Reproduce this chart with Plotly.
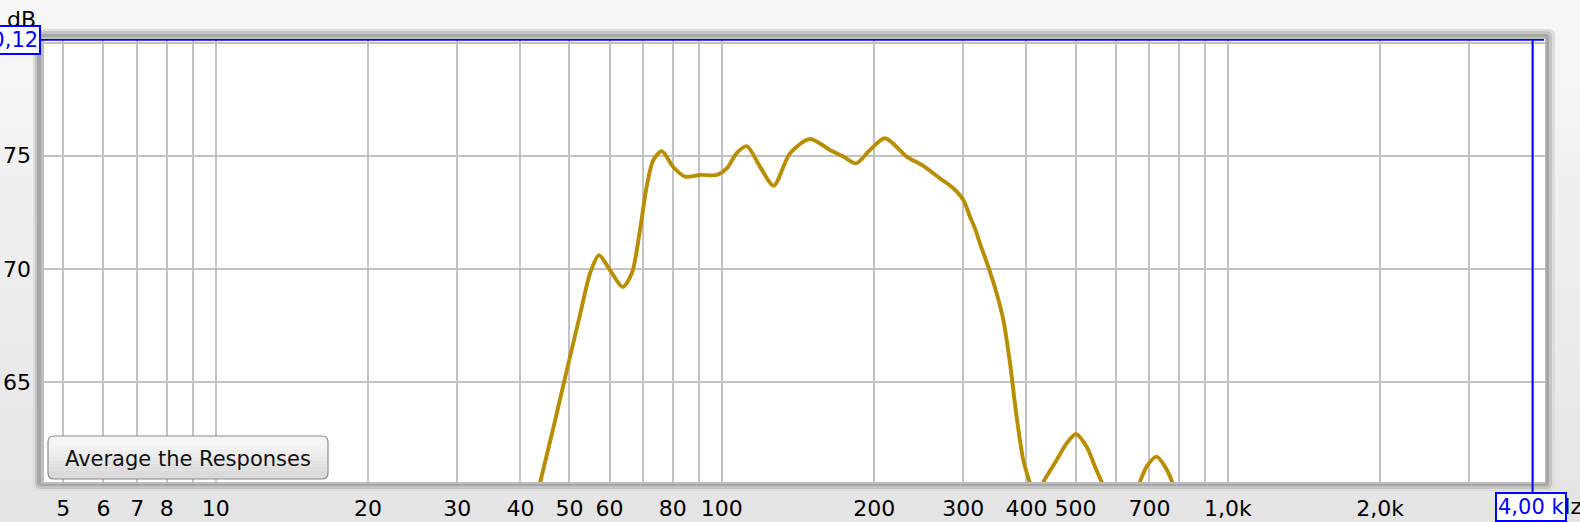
import math
import plotly.graph_objects as go

# ---------------- data ----------------
freq_hz = [42, 43.7, 46.5, 49.5, 52.5, 55.0, 57.2, 60.1, 63.7, 66.4, 68.9, 71.0, 73.2,
           76.1, 80.2, 84.6, 90.6, 97.7, 102.3, 107.0, 112.0, 119.0, 126.6, 136.4, 149.4,
           163.6, 173.8, 184.2, 196.2, 210.2, 231.9, 250.1, 269.8, 286.7, 300.1, 309.3,
           316.4, 323.6, 336.1, 349.2, 360.0, 371.1, 382.4, 394.2, 406.4, 416.0, 430.5,
           458.9, 480.3, 501.0, 525.9, 546.1, 564.6, 612.0, 668.3, 691.0, 723.2, 751.0,
           778.0, 830.0]
spl_db = [58.8, 60.5, 63.0, 65.6, 68.0, 69.85, 70.6, 69.95, 69.2, 69.8, 71.7, 73.6, 74.8,
          75.2, 74.5, 74.07, 74.15, 74.15, 74.44, 75.11, 75.42, 74.51, 73.68, 75.11, 75.74,
          75.25, 74.96, 74.66, 75.25, 75.77, 74.96, 74.55, 74.0, 73.56, 73.04, 72.3,
          71.79, 71.13, 70.1, 68.92, 67.74, 65.83, 63.47, 61.55, 60.52, 59.7, 60.52,
          61.55, 62.29, 62.7, 62.14, 61.26, 60.52, 58.6, 60.52, 61.26, 61.7, 61.26,
          60.52, 58.3]

x_grid_vals = [5, 6, 7, 8, 9, 10, 20, 30, 40, 50, 60, 70, 80, 90, 100, 200, 300, 400,
               500, 600, 700, 800, 900, 1000, 2000, 3000, 4000]
x_grid_text = ["5", "6", "7", "8", "", "10", "20", "30", "40", "50", "60", "", "80", "",
               "100", "200", "300", "400", "500", "", "700", "", "", "1,0k", "2,0k", "", ""]
y_tick_vals = [65, 70, 75, 80]
y_tick_text = ["65", "70", "75", "80"]

cursor_db = 80.12
cursor_hz = 4000
cursor_db_text = "80,12"
cursor_hz_text = "4,00 k"

# ---------------- layout geometry ----------------
W, H = 1580, 522
PL, PR, PT, PB = 44, 1545, 39, 482  # plot area in pixels
X_RANGE = [0.6607, 3.6266]
Y_RANGE = [60.58, 80.157]


def xp(X):
    return (X - PL) / (PR - PL)


def yp(Y):
    return (PB - Y) / (PB - PT)


def rrect(x0, y0, x1, y1, r, top=True, bottom=True):
    a0, a1 = xp(x0), xp(x1)
    b0, b1 = yp(y0), yp(y1)
    rx = r / (PR - PL)
    ry = r / (PB - PT)
    rt = (rx, ry) if top else (0, 0)
    rb = (rx, ry) if bottom else (0, 0)
    p = f"M {a0 + rt[0]},{b0} L {a1 - rt[0]},{b0} "
    p += f"Q {a1},{b0} {a1},{b0 - rt[1]} " if top else ""
    p += f"L {a1},{b1 + rb[1]} "
    p += f"Q {a1},{b1} {a1 - rb[0]},{b1} " if bottom else ""
    p += f"L {a0 + rb[0]},{b1} "
    p += f"Q {a0},{b1} {a0},{b1 + rb[1]} " if bottom else ""
    p += f"L {a0},{b0 - rt[1]} "
    p += f"Q {a0},{b0} {a0 + rt[0]},{b0} " if top else ""
    return p + "Z"


shapes = []
nb = 24
for i in range(nb):
    Y0 = H * i / nb
    Y1 = H * (i + 1) / nb + 1
    t = i / (nb - 1)
    c = int(round(247 - t * (247 - 228)))
    shapes.append(dict(type="rect", xref="paper", yref="paper", layer="below",
                       x0=xp(-2), x1=xp(W + 2), y0=yp(Y1), y1=yp(Y0),
                       fillcolor=f"rgb({c},{c},{c})", line=dict(width=0)))
for (x0, y0, x1, y1, r, col) in [(33, 29, 1555, 491, 7, "#dddddd"),
                                 (35, 31, 1552, 489, 6, "#c4c4c4"),
                                 (37, 34, 1549, 486, 4, "#a6a6a6"),
                                 (41, 37, 1546, 484, 2, "#bcbcc2")]:
    shapes.append(dict(type="path", xref="paper", yref="paper", layer="below",
                       path=rrect(x0, y0, x1, y1, r), fillcolor=col, line=dict(width=0)))
shapes.append(dict(type="rect", xref="paper", yref="paper", layer="below",
                   x0=0, x1=1, y0=0, y1=1, fillcolor="white", line=dict(width=0)))

shapes.append(dict(type="line", xref="paper", yref="y", layer="above",
                   x0=xp(40), x1=xp(1544), y0=cursor_db, y1=cursor_db,
                   line=dict(color="#0000ff", width=2)))
shapes.append(dict(type="line", xref="x", yref="paper", layer="above",
                   x0=cursor_hz, x1=cursor_hz, y0=yp(492), y1=yp(40),
                   line=dict(color="#0000ff", width=2)))

BX0, BY0, BX1, BY1 = 48, 436, 328, 479
shapes.append(dict(type="path", xref="paper", yref="paper", layer="above",
                   path=rrect(BX0, BY0, BX1, BY1, 6), fillcolor="#f6f6f6", line=dict(width=0)))
nbb = 8
for i in range(nbb):
    Y0 = 446 + i * 3.5
    Y1 = Y0 + 3.6
    t = i / (nbb - 1)
    c = int(round(243 - t * (243 - 218)))
    shapes.append(dict(type="rect", xref="paper", yref="paper", layer="above",
                       x0=xp(BX0 + 0.5), x1=xp(BX1 - 0.5), y0=yp(Y1), y1=yp(Y0),
                       fillcolor=f"rgb({c},{c},{c})", line=dict(width=0)))
shapes.append(dict(type="path", xref="paper", yref="paper", layer="above",
                   path=rrect(BX0, 473, BX1, BY1, 6, top=False), fillcolor="#dadada",
                   line=dict(width=0)))
shapes.append(dict(type="path", xref="paper", yref="paper", layer="above",
                   path=rrect(BX0, BY0, BX1, BY1, 6), fillcolor="rgba(0,0,0,0)",
                   line=dict(color="#8a8a8a", width=1.2)))

FONT = "DejaVu Sans"
TS = 22
annotations = [
    dict(text="dB", x=xp(21), y=yp(20), xref="paper", yref="paper", showarrow=False,
         xanchor="center", yanchor="middle", font=dict(family=FONT, size=TS, color="black")),
    dict(text="Hz", x=xp(1584), y=yp(506), xref="paper", yref="paper", showarrow=False,
         xanchor="right", yanchor="middle", font=dict(family=FONT, size=TS, color="black")),
    dict(text=cursor_db_text, x=xp(41), y=yp(40), xref="paper", yref="paper", showarrow=False,
         xanchor="right", yanchor="middle", bgcolor="white", bordercolor="#0000ff",
         borderwidth=2, borderpad=1, font=dict(family=FONT, size=21, color="#0000ff")),
    dict(text=cursor_hz_text, x=math.log10(cursor_hz), xref="x", y=yp(507), yref="paper",
         showarrow=False, xanchor="center", yanchor="middle", xshift=-1.5, bgcolor="white",
         bordercolor="#0000ff", borderwidth=2, borderpad=1,
         font=dict(family=FONT, size=21, color="#0000ff")),
    dict(text="Average the Responses", x=xp((BX0 + BX1) / 2), y=yp(459), xref="paper",
         yref="paper", showarrow=False, xanchor="center", yanchor="middle",
         font=dict(family=FONT, size=21, color="#111111")),
]

fig = go.Figure()
fig.add_trace(go.Scatter(x=freq_hz, y=spl_db, mode="lines",
                         line=dict(color="#b88e00", width=3.9, shape="spline", smoothing=0.8),
                         hoverinfo="skip", showlegend=False))

fig.update_layout(
    width=W, height=H,
    margin=dict(l=PL, r=W - PR, t=PT, b=H - PB, pad=0, autoexpand=False),
    paper_bgcolor="#eeeeee",
    plot_bgcolor="rgba(0,0,0,0)",
    shapes=shapes,
    annotations=annotations,
    showlegend=False,
    font=dict(family=FONT, size=TS, color="black"),
)
fig.update_xaxes(type="log", range=X_RANGE, tickmode="array", tickvals=x_grid_vals,
                 ticktext=x_grid_text, showgrid=True, gridcolor="#c2c2c2", gridwidth=2,
                 zeroline=False, showline=False, ticks="", ticklabelstandoff=11,
                 automargin=False,
                 tickfont=dict(family=FONT, size=TS, color="black"))
fig.update_yaxes(range=Y_RANGE, tickmode="array", tickvals=y_tick_vals, ticktext=y_tick_text,
                 showgrid=True, gridcolor="#c2c2c2", gridwidth=2, zeroline=False,
                 showline=False, ticks="", ticklabelstandoff=12, automargin=False,
                 tickfont=dict(family=FONT, size=TS, color="black"))

fig.write_html("out.html", config={"displayModeBar": False},
               post_script="document.body.style.margin='0';document.body.style.overflow='hidden';")
